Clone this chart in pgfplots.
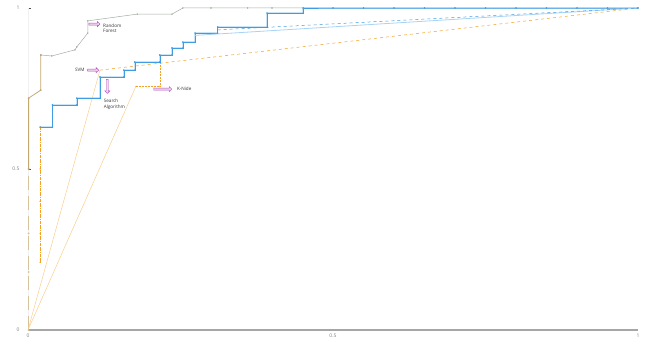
\documentclass[border=0pt]{standalone}
\usepackage{fontspec}
\setmainfont{Open Sans}
\usepackage{pgfplots}
\pgfplotsset{compat=1.18}
\usetikzlibrary{shapes.arrows}
\definecolor{rfgray}{HTML}{A3ACA3}
\definecolor{rftan}{HTML}{C4A870}
\definecolor{cblue}{HTML}{3E9DE2}
\definecolor{lblue}{HTML}{A8D3F4}
\definecolor{corange}{HTML}{F5A023}
\definecolor{arrowmag}{HTML}{B050B8}
\definecolor{arrowfill}{HTML}{F0D8F2}
\begin{document}
\begin{tikzpicture}
\begin{axis}[name=ax,
  scale only axis, width=610pt, height=322pt,
  xmin=0, xmax=1, ymin=0, ymax=1,
  axis x line*=bottom, axis y line*=left,
  x axis line style={draw=gray!70, line width=1.3pt, -},
  y axis line style={draw=gray!12, line width=0.6pt, -},
  xtick={0,0.5,1}, ytick={0,0.5,1},
  xticklabels={0,0.5,1}, yticklabels={0,0.5,1},
  xtick style={draw=none}, ytick style={draw=black!70, line width=0.5pt},
  major tick length=3pt,
  tick label style={font=\fontsize{5}{6}\selectfont, text=gray},
  yticklabel style={xshift=-5pt},
  /pgf/number format/assume math mode=true,
  clip=false,
  every axis plot/.append style={line width=0.5pt},
]
% Random Forest (tan lower part, dashed)
\addplot[rftan!70, line width=0.8pt, dash pattern=on 14pt off 6pt, mark=*, mark size=0.45pt, mark options={solid}] coordinates {
(0.001,0) (0.001,0.18) (0.001,0.30) (0.001,0.50)};
% Random Forest (tan upper part)
\addplot[rftan, line width=0.8pt, mark=*, mark size=0.45pt] coordinates {
(0.001,0.50) (0.001,0.72) (0.021,0.745) (0.021,0.854)};
% Random Forest (gray upper part)
\addplot[rfgray, mark=*, mark size=0.45pt] coordinates {
(0.021,0.854) (0.039,0.851) (0.077,0.870) (0.080,0.879) (0.098,0.922) (0.098,0.960)
(0.179,0.981) (0.236,0.981) (0.254,1.0) (0.30,1.0) (0.36,1.0) (0.40,1.0) (0.451,1.0) (1,1)};
% orange dotted vertical segment
\addplot[corange, densely dashdotted, line width=0.45pt, mark=*, mark size=0.45pt] coordinates {
(0.02,0.21) (0.02,0.30) (0.02,0.40) (0.02,0.50) (0.02,0.63)};
% SVM
\addplot[corange!55, line width=0.45pt] coordinates {(0,0) (0.118,0.807)};
\addplot[corange, dashed] coordinates {(0.118,0.807) (1,1)};
% K-Nide
\addplot[corange!55, line width=0.45pt] coordinates {(0,0) (0.177,0.757)};
\addplot[corange, densely dotted, mark=*, mark size=0.45pt] coordinates {
(0.177,0.757) (0.216,0.757) (0.216,0.854) (0.236,0.854)};
% Search Algorithm (blue step curve)
\addplot[lblue, line width=1.4pt, opacity=0.6] coordinates {
(0.02,0.63) (0.04,0.63) (0.04,0.699) (0.080,0.699) (0.080,0.720) (0.118,0.720)
(0.118,0.786) (0.157,0.786) (0.157,0.807) (0.175,0.807) (0.175,0.832) (0.216,0.832)
(0.216,0.854) (0.236,0.854) (0.236,0.876) (0.254,0.876) (0.254,0.894) (0.274,0.894)
(0.274,0.922) (0.311,0.922) (0.311,0.941) (0.392,0.941) (0.392,0.984) (0.451,0.984)
(0.451,1.0) (1,1)};
\addplot[cblue, mark=*, mark size=0.5pt] coordinates {
(0.02,0.63) (0.04,0.63) (0.04,0.699) (0.080,0.699) (0.080,0.720) (0.118,0.720)
(0.118,0.786) (0.157,0.786) (0.157,0.807) (0.175,0.807) (0.175,0.832) (0.216,0.832)
(0.216,0.854) (0.236,0.854) (0.236,0.876) (0.254,0.876) (0.254,0.894) (0.274,0.894)
(0.274,0.922) (0.311,0.922) (0.311,0.941) (0.392,0.941) (0.392,0.984) (0.451,0.984)
(0.451,1.0) (0.50,1.0) (0.55,1.0) (0.60,1.0) (0.65,1.0) (0.70,1.0) (0.75,1.0)
(0.80,1.0) (0.85,1.0) (0.90,1.0) (0.95,1.0) (1,1)};
\addplot[lblue, line width=0.8pt] coordinates {(0.274,0.915) (1,1)};
\addplot[cblue, dashed] coordinates {(0.311,0.932) (1,1)};
% annotations
\node[single arrow, draw=arrowmag, fill=arrowfill, line width=0.4pt, minimum height=11pt, minimum width=5pt, single arrow head extend=1.2pt, inner sep=0.6pt] at (axis cs:0.108,0.950) {};
\node[anchor=west, align=left, font=\fontsize{4.6}{5.8}\selectfont, text=black!80, inner sep=0pt] at (axis cs:0.123,0.937) {Random\\Forest};
\node[single arrow, draw=arrowmag, fill=arrowfill, line width=0.4pt, minimum height=11pt, minimum width=5pt, single arrow head extend=1.2pt, inner sep=0.6pt] at (axis cs:0.106,0.807) {};
\node[anchor=east, font=\fontsize{4.6}{5.8}\selectfont, text=black!80, inner sep=0pt] at (axis cs:0.093,0.807) {SVM};
\node[single arrow, shape border rotate=270, draw=arrowmag, fill=arrowfill, line width=0.4pt, minimum height=14pt, minimum width=5pt, single arrow head extend=1.2pt, inner sep=0.6pt] at (axis cs:0.130,0.758) {};
\node[anchor=west, align=left, font=\fontsize{4.6}{5.8}\selectfont, text=black!80, inner sep=0pt] at (axis cs:0.124,0.702) {Search\\Algorithm};
\node[single arrow, draw=arrowmag, fill=arrowfill, line width=0.4pt, minimum height=18pt, minimum width=5pt, single arrow head extend=1.2pt, inner sep=0.6pt] at (axis cs:0.220,0.748) {};
\node[anchor=west, font=\fontsize{4.6}{5.8}\selectfont, text=black!80, inner sep=0pt] at (axis cs:0.244,0.748) {K-Nide};
\end{axis}
\pgfresetboundingbox
\path ([shift={(-28pt,-15pt)}]ax.south west) rectangle ([shift={(8pt,8pt)}]ax.north east);
\end{tikzpicture}
\end{document}
